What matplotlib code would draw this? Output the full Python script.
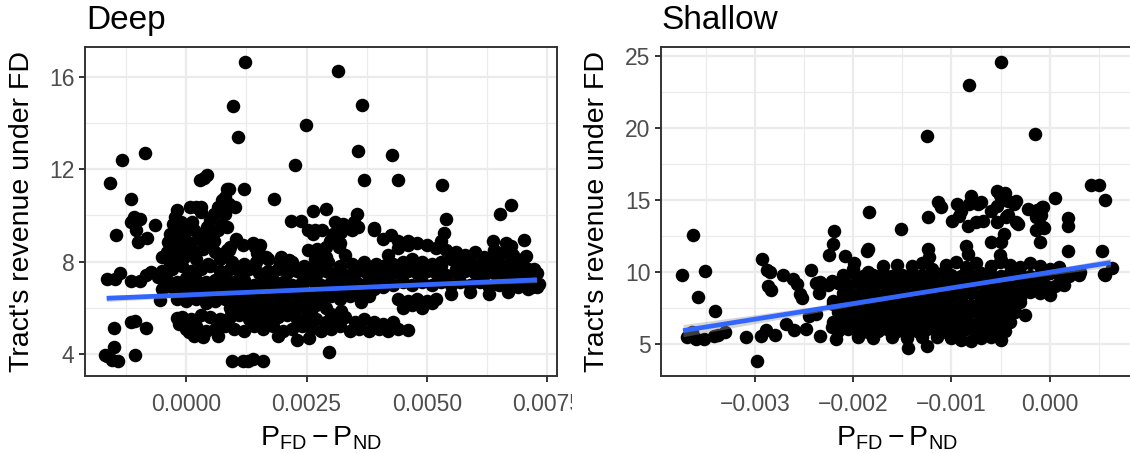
import numpy as np
import matplotlib
matplotlib.use("Agg")
import matplotlib.pyplot as plt
from matplotlib.transforms import Bbox, TransformedBbox

plt.rcParams['font.family'] = ['Liberation Sans', 'DejaVu Sans']
plt.rcParams['mathtext.fontset'] = 'custom'
plt.rcParams['mathtext.rm'] = 'Liberation Sans'
plt.rcParams['mathtext.it'] = 'Liberation Sans:italic'
plt.rcParams['mathtext.default'] = 'regular'

# ---------------- data (x in units of 1e-3) ----------------
# Deep panel: scattered points
deep_sparse_x = [1.22, 3.16, 0.96, 3.65, 1.08, 2.48, 3.58, 4.27, -0.86, -1.35, 2.26, -1.59, 0.28, 0.43, 0.36,
                 3.70, 4.41, 5.32, 1.20, 0.84, 1.82, -1.15, 6.76, 6.52, 5.40, 2.90, 2.63, 3.54, 2.17, 2.38,
                 -1.10, -0.97, -1.16, -1.04, -1.46, -0.66, -0.81, -1.00,
                 -1.65, -1.49, -1.39, -1.15, -0.74, -0.97, -0.85, -0.60,
                 -1.65, -1.51, -1.43, -1.55, -1.08, -1.16, -1.06, -0.85, -1.51, -1.70,
                 0.94, 1.18, 1.28, 1.38, 1.59, 2.96, -0.56]
deep_sparse_y = [16.62, 16.25, 14.75, 14.78, 13.41, 13.90, 12.77, 12.61, 12.70, 12.38, 12.16, 11.41, 11.51, 11.73, 11.62,
                 11.51, 11.51, 11.30, 11.15, 11.12, 10.69, 10.69, 10.46, 10.07, 9.85, 10.27, 10.18, 10.07, 9.74, 9.74,
                 9.95, 9.85, 9.71, 9.35, 9.13, 9.59, 9.01, 8.84,
                 7.25, 7.25, 7.50, 7.18, 7.54, 7.15, 7.40, 7.35,
                 3.90, 4.29, 3.71, 3.75, 3.97, 5.37, 5.45, 5.13, 5.11, 3.95,
                 3.68, 3.68, 3.72, 3.78, 3.68, 4.07, 6.33]
deep_upper_x = [2.52, 2.67, 2.63, 2.83, 3.10, 3.25, 3.06, 2.98, 3.21, 3.48, 3.56, 3.44, 2.90, 3.17, 2.71, 2.52,
                2.75, 2.90, 3.30, 2.67,
                1.43, 1.51, 1.66, 1.97, 2.13, 0.91, 1.18, 1.39, 1.53, 0.84, 1.46,
                3.91, 4.10, 4.26, 4.41, 4.61, 3.68, 3.28, 3.20, 3.90,
                5.36, 5.29, 6.37, 6.65, 7.03, 7.06, 6.75, 6.47, 7.24, 7.34, 7.20,
                0.43, 0.54, 0.66, 0.74, 0.81, 0.89, 0.74, 0.81, 0.66, 0.58, 0.43, 0.31, 0.50, 1.01, 0.85, 1.04,
                0.89, 0.74, 0.58, 0.35, 0.89,
                -0.19, -0.23, -0.12, -0.27, -0.04, -0.19, -0.35, -0.04, 0.12, 0.08, 0.19, 0.31, 0.31, 0.15, 0.27,
                -0.27, -0.12, -0.39, -0.27, -0.04, -0.50, -0.35,
                -0.25, -0.05, 0.10, 0.20, 0.35, 0.50, 0.60, -0.40, 0.05,
                0.15, 0.35, 0.65, 1.90, 2.30, 2.55, -0.15, -0.20, 0.05, 3.21, 3.63]
deep_upper_y = [9.35, 9.35, 9.20, 9.35, 9.71, 9.64, 9.20, 8.91, 9.27, 9.71, 9.49, 9.35, 8.62, 8.65, 8.55, 8.48,
                8.19, 8.19, 8.30, 8.12,
                8.62, 8.62, 8.19, 8.19, 8.05, 8.65, 8.73, 8.80, 8.73, 8.50, 8.36,
                9.35, 8.99, 9.13, 8.91, 8.91, 7.90, 9.50, 8.80, 9.46,
                9.24, 8.88, 8.88, 8.80, 8.95, 8.22, 8.66, 8.15, 7.70, 7.05, 6.90,
                9.20, 9.06, 9.35, 9.64, 10.07, 10.50, 10.65, 10.79, 10.36, 10.07, 9.49, 9.20, 9.78, 10.36, 9.49, 8.99,
                8.48, 8.34, 8.91, 8.91, 11.12,
                10.21, 9.92, 9.71, 9.64, 9.49, 9.20, 9.20, 9.06, 9.71, 10.36, 10.36, 10.36, 10.14, 9.35, 9.20,
                8.91, 8.62, 8.84, 8.34, 8.19, 8.19, 7.90,
                8.50, 8.60, 8.80, 8.40, 8.55, 8.70, 8.40, 8.40, 8.35,
                4.80, 4.75, 4.80, 4.80, 4.60, 4.70, 5.30, 5.55, 4.95, 5.88, 6.25]
# Deep panel: dense band, read row by row
deep_r1_x = [-0.3, -0.05, 0.2, 0.45, 0.7, 0.95, 1.2, 1.45, 1.7, 1.95, 2.2, 2.45, 2.7, 2.95, 3.2, 3.45, 3.7, 3.95,
             4.2, 4.4, 4.6, 4.8, 5.0, 5.2, 5.4, 5.6, 5.8, 6.0, 6.2, 6.4, 6.6, 6.8, 7.0]
deep_r1_y = [8.0, 8.2, 8.1, 7.9, 8.1, 8.0, 7.9, 8.0, 8.1, 7.9, 8.0, 7.8, 7.9, 8.0, 7.8, 7.9, 8.0, 7.9,
             8.3, 8.6, 8.7, 8.8, 8.7, 8.6, 8.5, 8.4, 8.3, 8.4, 8.2, 8.5, 8.4, 8.3, 8.1]
deep_r2_x = [-0.5, -0.3, -0.1, 0.1, 0.3, 0.5, 0.7, 0.9, 1.1, 1.3, 1.5, 1.7, 1.9, 2.1, 2.3, 2.5, 2.7, 2.9, 3.1, 3.3,
             3.5, 3.7, 3.9, 4.1, 4.3, 4.5, 4.7, 4.9, 5.1, 5.3, 5.5, 5.7, 5.9, 6.1, 6.3, 6.5, 6.7, 6.9, 7.1, 7.3]
deep_r2_y = [7.6, 7.7, 7.8, 7.6, 7.7, 7.8, 7.6, 7.7, 7.6, 7.7, 7.5, 7.6, 7.7, 7.5, 7.6, 7.5, 7.4, 7.6, 7.5, 7.4,
             7.5, 7.6, 7.7, 7.8, 7.9, 8.0, 8.1, 8.0, 7.9, 8.0, 8.1, 7.9, 8.0, 7.9, 8.0, 7.8, 7.9, 7.8, 7.7, 7.5]
deep_r3_x = [-0.4, -0.2, 0.0, 0.2, 0.4, 0.6, 0.8, 1.0, 1.2, 1.4, 1.6, 1.8, 2.0, 2.2, 2.4, 2.6, 2.8, 3.0, 3.2, 3.4,
             3.6, 3.8, 4.0, 4.2, 4.4, 4.6, 4.8, 5.0, 5.2, 5.4, 5.6, 5.8, 6.0, 6.2, 6.4, 6.6, 6.8, 7.0, 7.2]
deep_r3_y = [7.2, 7.1, 7.3, 7.2, 7.1, 7.2, 7.3, 7.1, 7.2, 7.0, 7.1, 7.2, 7.1, 7.0, 7.1, 7.2, 7.0, 7.1, 7.2, 7.1,
             7.0, 7.2, 7.3, 7.4, 7.5, 7.6, 7.5, 7.6, 7.5, 7.4, 7.5, 7.6, 7.5, 7.4, 7.5, 7.4, 7.3, 7.4, 7.2]
deep_r4_x = [-0.5, -0.3, -0.1, 0.1, 0.3, 0.5, 0.7, 0.9, 1.1, 1.3, 1.5, 1.7, 1.9, 2.1, 2.3, 2.5, 2.7, 2.9, 3.1, 3.3,
             3.5, 3.7, 3.9, 4.1, 4.3, 4.5, 4.7, 4.9, 5.1, 5.3, 5.5, 5.7, 5.9, 6.1, 6.3, 6.5, 6.7, 6.9, 7.1, 7.3]
deep_r4_y = [6.8, 6.9, 6.7, 6.8, 6.9, 6.7, 6.8, 6.6, 6.8, 6.7, 6.8, 6.6, 6.7, 6.8, 6.7, 6.6, 6.8, 6.7, 6.6, 6.7,
             6.8, 6.9, 6.8, 6.9, 7.0, 7.1, 7.0, 7.1, 7.0, 7.1, 7.0, 7.1, 7.0, 7.1, 6.9, 7.0, 7.1, 6.9, 7.0, 6.9]
deep_r5_x = [-0.2, 0.0, 0.2, 0.4, 0.6, 0.8, 1.0, 1.2, 1.4, 1.6, 1.8, 2.0, 2.2, 2.4, 2.6, 2.8, 3.0, 3.2, 3.4, 3.6,
             3.8, 4.4, 4.6, 4.8, 5.0, 5.2, 5.5, 5.9, 6.3, 6.7, 7.1,
             0.9, 1.1, 1.3, 1.5, 1.7, 1.9, 2.1, 2.3, 2.5, 2.7, 2.9, 4.5, 4.7, 4.9, 5.1]
deep_r5_y = [6.4, 6.3, 6.4, 6.2, 6.3, 6.4, 6.2, 6.3, 6.4, 6.3, 6.2, 6.3, 6.4, 6.3, 6.2, 6.4, 6.5, 6.4, 6.5, 6.6,
             6.5, 6.4, 6.3, 6.4, 6.3, 6.4, 6.6, 6.7, 6.6, 6.7, 6.8,
             6.0, 5.9, 6.0, 6.1, 5.9, 6.0, 6.1, 6.0, 5.9, 6.1, 6.0, 6.0, 6.1, 6.0, 6.2]
deep_fill_x = [0.0, 0.3, 0.6, 0.9, 1.2, 1.5, 1.8, 2.1, 2.4, 2.7, 3.0, 3.3, 3.6, 3.9,
               0.15, 0.45, 0.75, 1.05, 1.35, 1.65, 1.95, 2.25, 2.55, 2.85, 3.15, 3.45, 3.75,
               4.1, 4.4, 4.7, 5.0, 5.3, 5.6, 5.9, 6.2, 6.5, 6.8, 7.1,
               1.0, 1.4, 1.8, 2.2, 2.6, 3.0]
deep_fill_y = [6.95, 7.0, 6.95, 7.0, 6.9, 6.95, 7.0, 6.95, 6.9, 7.0, 6.95, 7.0, 7.05, 7.1,
               6.55, 6.6, 6.5, 6.55, 6.6, 6.5, 6.55, 6.6, 6.5, 6.55, 6.6, 6.65, 6.7,
               7.7, 7.75, 7.8, 7.75, 7.8, 7.7, 7.75, 7.7, 7.7, 7.6, 7.35,
               5.8, 5.75, 5.8, 5.75, 5.8, 5.75]
deep_low_x = [-0.1, 0.1, 0.3, 0.5, 0.7, 0.9, 1.1, 1.3, 1.5, 1.7, 1.9, 2.1, 2.3, 2.5, 2.7, 2.9, 3.1, 3.3, 3.5, 3.7,
              3.9, 4.1, 4.3,
              0.0, 0.2, 0.4, 0.6, 0.8, 1.0, 1.2, 1.4, 1.6, 1.8, 2.0, 2.2, 2.4, 2.6, 2.8, 3.0, 3.2, 3.4, 3.6, 3.8,
              4.0, 4.2, 4.4, 4.6]
deep_low_y = [5.6, 5.5, 5.7, 5.6, 5.5, 5.6, 5.7, 5.5, 5.6, 5.5, 5.6, 5.7, 5.5, 5.6, 5.5, 5.4, 5.5, 5.6, 5.4, 5.5,
              5.4, 5.3, 5.4,
              5.1, 5.2, 5.0, 5.1, 5.2, 5.1, 5.0, 5.2, 5.1, 5.2, 5.0, 5.1, 5.2, 5.1, 5.0, 5.1, 5.2, 5.0, 5.1, 5.0,
              5.1, 5.0, 5.1, 5.05]

# Shallow panel: scattered points
shallow_sparse_x = [-0.49, -0.82, -1.25, -0.15, -1.84, -1.51, -3.63, -2.19, -2.20, -2.24, -1.85, -2.08, -1.99, -1.86,
                    -1.24, -1.24, -1.23, 0.05, 0.42, 0.50, 0.56, 0.19, 0.19, 0.19, 0.53, 0.56, 0.63, 0.55, 0.31,
                    0.13, 0.12,
                    -3.74, -3.51, -3.58, -3.40, -3.69, -3.62, -3.52, -3.60, -3.41, -3.30, -3.64, -3.37,
                    -3.09, -2.98, -2.94, -2.89, -2.79, -2.68, -2.60, -2.48, -2.34, -2.17,
                    -2.93, -2.88, -2.84, -2.87, -2.83, -2.71, -2.61, -2.57, -2.54, -2.43, -2.38, -2.34, -2.21,
                    -2.35, -2.52, -2.38, -2.45, -1.44, -1.25, -2.20, -2.21]
shallow_sparse_y = [24.58, 22.97, 19.45, 19.54, 14.13, 12.98, 12.53, 12.84, 11.90, 11.17, 11.60, 11.08, 10.60, 11.47,
                    13.80, 11.60, 11.00, 15.15, 16.03, 16.03, 14.99, 13.75, 13.20, 11.47, 11.47, 9.80, 10.29, 9.85,
                    10.02, 9.21, 9.16,
                    9.76, 10.05, 8.25, 7.28, 5.46, 5.50, 5.32, 5.35, 5.55, 5.82, 5.82, 5.60,
                    5.51, 3.80, 5.58, 5.97, 5.60, 6.39, 5.94, 6.04, 5.58, 5.37,
                    10.89, 10.10, 10.00, 9.04, 8.72, 9.76, 9.50, 9.18, 8.47, 10.10, 9.20, 9.27, 9.39,
                    8.50, 8.20, 7.10, 6.95, 4.72, 4.88, 8.00, 6.20]
shallow_upper_x = [-1.14, -1.11, -0.94, -0.90, -0.99, -0.92, -0.80, -0.82, -0.73, -0.83, -0.75, -0.68, -0.54,
                   -0.60, -0.54, -0.49, -0.42, -0.36, -0.34, -0.54, -0.44, -0.46, -0.49, -0.60, -0.32, -0.22,
                   -0.08, -0.14, -0.07, -0.10, -0.85, -0.83, -0.51, -0.51, -0.70, -0.51, -0.45, -0.42, -0.34,
                   -0.13, -0.07, -0.09, -0.14, -0.06]
shallow_upper_y = [14.82, 14.47, 14.71, 14.24, 13.55, 13.90, 15.28, 14.71, 14.71, 13.20, 13.43, 13.55, 15.63,
                   14.24, 14.59, 15.17, 14.94, 14.71, 14.94, 13.43, 13.78, 12.63, 12.05, 12.05, 13.32, 14.36,
                   14.47, 13.78, 13.09, 12.05, 11.82, 11.24, 10.71, 11.20, 14.87, 15.34, 15.45, 13.95, 13.49,
                   14.29, 14.53, 13.95, 12.91, 13.02]
# Shallow panel: dense cloud, read row by row
shallow_r1_x = [-2.0, -1.85, -1.7, -1.55, -1.4, -1.3, -1.2, -1.05, -0.95, -0.85, -0.75, -0.6, -0.5, -0.4, -0.3,
                -0.2, -0.1, 0.0, 0.1,
                -2.1, -2.0, -1.9, -1.8, -1.7, -1.6, -1.5, -1.4, -1.3, -1.2, -1.1, -1.0, -0.9, -0.8, -0.7, -0.6,
                -0.5, -0.4, -0.3, -0.2, -0.1, 0.0, 0.1, 0.2, 0.3]
shallow_r1_y = [10.2, 10.0, 10.4, 10.5, 10.4, 10.6, 10.2, 10.5, 10.7, 10.3, 10.6, 10.4, 10.8, 10.5, 10.3,
                10.6, 10.4, 10.2, 10.3,
                9.8, 9.9, 9.7, 9.8, 9.9, 9.7, 9.8, 9.9, 9.8, 9.7, 9.9, 9.8, 9.7, 9.8, 9.9, 9.8,
                9.7, 9.9, 9.8, 9.7, 9.8, 9.9, 9.8, 9.7, 9.8]
shallow_r2_x = [-2.25, -2.15, -2.05, -1.95, -1.85, -1.75, -1.65, -1.55, -1.45, -1.35, -1.25, -1.15, -1.05, -0.95,
                -0.85, -0.75, -0.65, -0.55, -0.45, -0.35, -0.25, -0.15, -0.05, 0.05, 0.15,
                -2.1, -2.0, -1.9, -1.8, -1.7, -1.6, -1.5, -1.4, -1.3, -1.2, -1.1, -1.0, -0.9, -0.8, -0.7, -0.6,
                -0.5, -0.4, -0.3, -0.2, -0.1, 0.0]
shallow_r2_y = [9.1, 9.2, 9.1, 9.2, 9.1, 9.2, 9.1, 9.0, 9.2, 9.1, 9.2, 9.1, 9.2, 9.1, 9.0, 9.2, 9.1, 9.2, 9.1,
                9.0, 9.1, 9.2, 9.1, 9.0, 9.1,
                8.5, 8.4, 8.6, 8.5, 8.4, 8.5, 8.6, 8.4, 8.5, 8.6, 8.4, 8.5, 8.6, 8.5, 8.4, 8.5, 8.6, 8.4, 8.5,
                8.6, 8.5, 8.4]
shallow_r3_x = [-2.2, -2.1, -2.0, -1.9, -1.8, -1.7, -1.6, -1.5, -1.4, -1.3, -1.2, -1.1, -1.0, -0.9, -0.8, -0.7,
                -0.6, -0.5, -0.4, -0.3,
                -2.15, -2.05, -1.95, -1.85, -1.75, -1.65, -1.55, -1.45, -1.35, -1.25, -1.15, -1.05, -0.95,
                -0.85, -0.75, -0.65, -0.55, -0.45, -0.35, -0.25]
shallow_r3_y = [7.8, 7.9, 7.8, 7.9, 7.8, 7.9, 7.8, 7.7, 7.9, 7.8, 7.9, 7.8, 7.9, 7.8, 7.7, 7.9, 7.8, 7.9, 7.8, 7.9,
                7.2, 7.1, 7.2, 7.3, 7.2, 7.1, 7.2, 7.3, 7.2, 7.1, 7.2, 7.3, 7.2, 7.1, 7.2, 7.2, 7.3, 7.1, 7.2, 7.0]
shallow_r4_x = [-2.2, -2.1, -2.0, -1.9, -1.8, -1.7, -1.6, -1.5, -1.4, -1.3, -1.2, -1.1, -1.0, -0.9, -0.8, -0.7,
                -0.6, -0.5, -0.4,
                -2.15, -2.05, -1.95, -1.85, -1.75, -1.65, -1.55, -1.45, -1.35, -1.25, -1.15, -1.05, -0.95,
                -0.85, -0.75, -0.65, -0.55, -0.45,
                -1.95, -1.8, -1.6, -1.45, -1.3, -1.15, -1.0, -0.9, -0.8, -0.7, -0.6, -0.5]
shallow_r4_y = [6.5, 6.6, 6.5, 6.6, 6.5, 6.6, 6.5, 6.4, 6.6, 6.5, 6.6, 6.5, 6.6, 6.5, 6.4, 6.6, 6.5, 6.6, 6.5,
                5.9, 6.0, 5.9, 5.8, 5.9, 6.0, 5.9, 5.8, 5.9, 6.0, 5.9, 5.8, 5.9, 6.0, 5.9, 5.8, 6.0, 5.9,
                5.5, 5.4, 5.5, 5.4, 5.5, 5.5, 5.4, 5.3, 5.2, 5.4, 5.5, 5.3]
shallow_fill_x = [-2.1, -1.9, -1.7, -1.5, -1.3, -1.1, -0.9, -0.7, -0.5, -0.3, -0.1,
                  -2.0, -1.8, -1.6, -1.4, -1.2, -1.0, -0.8, -0.6, -0.4,
                  -2.1, -1.9, -1.7, -1.5, -1.3, -1.1, -0.9, -0.7, -0.5,
                  -2.0, -1.8, -1.6, -1.4, -1.2, -1.0, -0.8, -0.6,
                  -1.95, -1.65, -1.35, -1.05, -0.75, -0.45, -0.15]
shallow_fill_y = [8.15, 8.2, 8.15, 8.2, 8.15, 8.2, 8.15, 8.2, 8.15, 8.2, 8.9,
                  7.5, 7.55, 7.5, 7.55, 7.5, 7.55, 7.5, 7.55, 7.5,
                  6.85, 6.9, 6.85, 6.9, 6.85, 6.9, 6.85, 6.9, 6.85,
                  6.2, 6.25, 6.2, 6.25, 6.2, 6.25, 6.2, 6.25,
                  9.5, 9.45, 9.5, 9.45, 9.5, 9.45, 9.5]

# Linear fits and confidence bands
deep_fit_x = [-1.66, 7.29]
deep_fit_y = [6.41, 7.21]
deep_ci_x = [-1.66, 0.5, 2.8, 5.0, 7.29]
deep_ci_half = [0.14, 0.08, 0.05, 0.07, 0.12]
shallow_fit_x = [-3.73, 0.62]
shallow_fit_y = [5.92, 10.64]
shallow_ci_x = [-3.73, -2.8, -1.9, -1.1, -0.3, 0.62]
shallow_ci_half = [0.42, 0.28, 0.15, 0.10, 0.15, 0.30]

# Axes ticks / labels
deep_xticks = [0.0, 0.0025, 0.005, 0.0075]
deep_xlabels = ["0.0000", "0.0025", "0.0050", ""]
deep_xminor = [-0.00125, 0.00125, 0.00375, 0.00625]
deep_yticks = [4, 8, 12, 16]
deep_yminor = [6, 10, 14]
shallow_xticks = [-0.003, -0.002, -0.001, 0.0]
shallow_xlabels = ["\u22120.003", "\u22120.002", "\u22120.001", "0.000"]
shallow_xminor = [-0.0035, -0.0025, -0.0015, -0.0005, 0.0005]
shallow_yticks = [5, 10, 15, 20, 25]
shallow_yminor = [7.5, 12.5, 17.5, 22.5]

# ---------------- figure ----------------
W, H = 1130, 453
fig = plt.figure(figsize=(W / 100, H / 100), dpi=100)
ax1 = fig.add_axes([85 / W, 1 - 376 / H, 472 / W, 328.7 / H])
ax2 = fig.add_axes([661 / W, 1 - 376 / H, 472 / W, 328.7 / H])

TICK_FS = 16.5
LAB_FS = 20.5
TITLE_FS = 24
TICK_LEN = 4.5
XPAD = 7.5
YPAD = 3
DOT_S = 95


def draw_panel(ax, xs, ys, fit_x, fit_y, ci_x, ci_half):
    x = np.concatenate([np.asarray(a, float) for a in xs]) * 1e-3
    y = np.concatenate([np.asarray(a, float) for a in ys])
    ax.scatter(x, y, s=DOT_S, c='black', linewidths=0, zorder=3)
    cx = np.asarray(ci_x) * 1e-3
    fx = np.asarray(fit_x) * 1e-3
    cy = np.interp(cx, fx, fit_y)
    h = np.asarray(ci_half)
    ax.fill_between(cx, cy - h, cy + h, color='#999999', alpha=0.4, lw=0, zorder=4)
    ax.plot(fx, fit_y, color='#3366FF', lw=3.4, zorder=5, solid_capstyle='butt')


def style(ax, xlim, ylim, xt, xl, xm, yt, ym):
    ax.set_xlim(xlim)
    ax.set_ylim(ylim)
    ax.set_xticks(xt)
    ax.set_xticklabels(xl)
    ax.set_xticks(xm, minor=True)
    ax.set_yticks(yt)
    ax.set_yticklabels([str(v) for v in yt])
    ax.set_yticks(ym, minor=True)
    ax.grid(which='major', color='#EBEBEB', lw=1.6)
    ax.grid(which='minor', color='#EBEBEB', lw=0.9)
    ax.set_axisbelow(True)
    for s in ax.spines.values():
        s.set_color('#333333')
        s.set_linewidth(1.4)
    ax.tick_params(which='major', length=TICK_LEN, width=1.4, color='#333333',
                   labelcolor='#4D4D4D', labelsize=TICK_FS)
    ax.tick_params(axis='x', which='major', pad=XPAD)
    ax.tick_params(axis='y', which='major', pad=YPAD)
    ax.tick_params(which='minor', length=0)


draw_panel(ax1, [deep_sparse_x, deep_upper_x, deep_r1_x, deep_r2_x, deep_r3_x, deep_r4_x, deep_r5_x,
                 deep_fill_x, deep_low_x],
           [deep_sparse_y, deep_upper_y, deep_r1_y, deep_r2_y, deep_r3_y, deep_r4_y, deep_r5_y,
            deep_fill_y, deep_low_y],
           deep_fit_x, deep_fit_y, deep_ci_x, deep_ci_half)
draw_panel(ax2, [shallow_sparse_x, shallow_upper_x, shallow_r1_x, shallow_r2_x, shallow_r3_x, shallow_r4_x,
                 shallow_fill_x],
           [shallow_sparse_y, shallow_upper_y, shallow_r1_y, shallow_r2_y, shallow_r3_y, shallow_r4_y,
            shallow_fill_y],
           shallow_fit_x, shallow_fit_y, shallow_ci_x, shallow_ci_half)

style(ax1, (-0.00211, 0.00771), (3.05, 17.27), deep_xticks, deep_xlabels, deep_xminor, deep_yticks, deep_yminor)
style(ax2, (-0.003954, 0.000848), (2.77, 25.58), shallow_xticks, shallow_xlabels, shallow_xminor,
      shallow_yticks, shallow_yminor)

# clipped "0.0075" label (cut off by the panel edge, as in the reference)
trans, va, ha = ax1.get_xaxis_text1_transform(TICK_LEN + XPAD)
t = fig.text(0.0075, 0, "0.0075", transform=trans, va=va, ha=ha, fontsize=TICK_FS, color='#4D4D4D')
t.set_clip_box(TransformedBbox(Bbox.from_extents(0, 0, 572 / W, 1), fig.transFigure))
t.set_clip_on(True)

# titles and axis titles
fig.text(86 / W, 1 - 29 / H, "Deep", fontsize=TITLE_FS, ha='left', va='baseline')
fig.text(661 / W, 1 - 29 / H, "Shallow", fontsize=TITLE_FS, ha='left', va='baseline')
ylab = "Tract's revenue under FD"
fig.text(22 / W, 1 - 211.7 / H, ylab, rotation=90, ha='center', va='center', fontsize=LAB_FS)
fig.text(597 / W, 1 - 211.7 / H, ylab, rotation=90, ha='center', va='center', fontsize=LAB_FS)
xlab = r'$\mathregular{P_{FD}-P_{ND}}$'
fig.text(321 / W, 1 - 446 / H, xlab, ha='center', va='baseline', fontsize=LAB_FS)
fig.text(897 / W, 1 - 446 / H, xlab, ha='center', va='baseline', fontsize=LAB_FS)

fig.savefig("out.png", dpi=100)
